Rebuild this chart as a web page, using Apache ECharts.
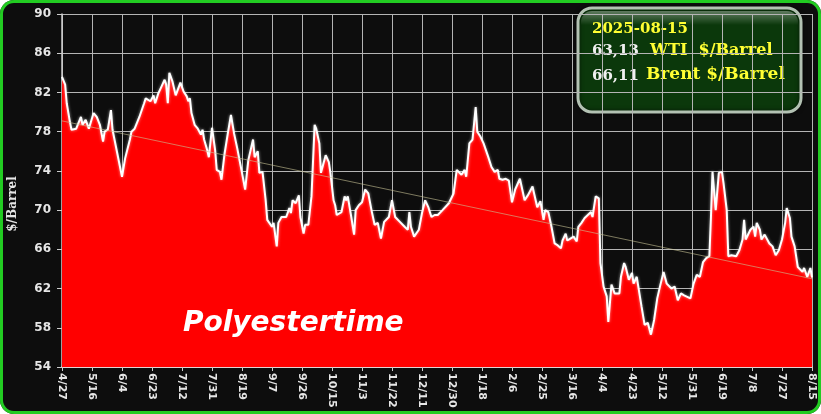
<!DOCTYPE html>
<html>
<head>
<meta charset="utf-8">
<script src="https://cdn.jsdelivr.net/npm/echarts@6/dist/echarts.min.js"></script>
<style>
  html, body { margin: 0; padding: 0; background: #ffffff; }
  #wrap { position: relative; width: 821px; height: 414px; }
  #chart { position: absolute; left: 0; top: 0; width: 821px; height: 414px; background: #0d0d0d; border-radius: 14px; overflow: hidden; }
  #frame { position: absolute; left: 0; top: 0; width: 821px; height: 414px; box-sizing: border-box; border: 3px solid #22cc22; border-radius: 14px; pointer-events: none; }
</style>
</head>
<body>
<div id="wrap"><div id="chart"></div><div id="frame"></div></div>
<script>
// ---- data ----
const startDate = '2024-04-27';           // first day on the x axis
const endDay = 475;                        // 2025-08-15, days after startDate
const tickStepDays = 19;                   // x tick spacing in days
// day offsets from startDate
const days = [0,2,3,5,6,9,12,13,15,17,20,22,24,26,27,29,31,32,35,38,40,41,43,44,46,49,52,53,56,58,59,61,63,65,66,67,68,70,72,75,77,79,80,81,82,84,86,88,89,90,92,93,95,97,98,100,101,103,105,107,109,111,114,116,118,121,122,124,125,127,129,130,133,134,136,137,139,142,144,145,146,148,150,151,153,154,156,158,160,161,163,164,165,167,169,170,172,173,174,177,179,180,181,183,185,186,188,190,192,194,196,198,200,202,204,207,209,211,214,217,219,220,221,223,226,228,230,232,234,236,238,241,245,248,250,253,255,256,258,260,262,263,265,267,270,272,274,276,277,279,281,283,285,287,290,293,295,298,299,301,303,305,306,308,310,312,314,316,317,319,320,322,324,326,327,329,331,333,335,336,338,340,341,343,345,346,348,350,353,354,356,357,359,361,362,364,365,367,369,371,373,375,377,379,381,383,386,388,390,392,394,398,400,402,404,406,408,410,411,412,414,416,418,419,421,422,424,427,429,431,432,433,436,438,439,440,442,443,445,448,450,452,454,456,458,459,461,462,464,466,469,470,472,474,475];
// price in $/barrel
const prices = [83.6,82.8,80.9,79.0,78.2,78.3,79.5,78.7,79.2,78.3,79.9,79.5,78.7,77.0,78.0,78.2,80.2,78.2,75.8,73.4,75.3,75.4,77.2,78.0,78.3,79.5,80.9,81.4,81.1,81.7,80.9,81.9,82.6,83.3,82.8,80.9,84.0,83.1,81.7,83.0,82.1,81.6,81.1,81.4,79.9,78.7,78.3,77.7,78.2,77.2,76.1,75.4,78.4,76.1,74.1,73.9,73.1,75.8,77.8,79.7,77.8,76.3,73.8,72.1,75.1,77.2,75.4,76.0,73.8,73.9,71.0,69.0,68.3,68.7,66.3,68.7,69.3,69.3,70.2,69.7,71.0,70.7,71.5,69.3,67.6,68.5,68.5,71.4,78.7,78.3,76.8,73.8,73.9,75.6,74.9,73.8,71.0,70.5,69.5,69.8,71.4,71.0,71.4,69.5,67.5,70.0,70.5,70.8,72.1,71.7,70.0,68.5,68.7,67.1,68.8,69.3,71.0,69.3,68.8,68.3,68.0,69.8,68.3,67.3,68.0,69.7,71.0,70.3,69.3,69.5,69.5,70.0,70.7,71.7,74.1,73.6,74.1,73.4,76.8,77.2,80.5,78.0,77.5,76.8,75.4,74.4,73.9,74.1,73.2,73.1,73.2,73.0,70.8,72.1,73.2,71.0,71.5,72.4,71.7,70.3,70.9,69.0,70.0,69.8,68.3,66.6,66.4,66.1,66.9,67.6,66.9,67.1,67.3,66.8,68.3,68.7,69.2,69.5,69.8,69.3,71.4,71.2,64.6,62.2,61.2,58.6,62.4,61.5,61.5,63.2,64.6,64.2,62.9,63.6,62.5,63.2,62.2,60.2,58.3,58.5,57.3,58.8,61.0,62.4,63.7,62.5,62.0,62.2,60.8,61.5,61.3,61.0,62.5,63.4,63.2,64.7,65.1,65.3,69.3,73.9,70.0,73.8,73.9,72.7,70.0,65.3,65.4,65.3,65.9,67.0,69.0,67.0,68.0,68.3,67.3,68.7,68.0,67.0,67.5,66.6,66.3,65.4,65.9,67.0,68.7,70.2,69.2,67.3,66.3,64.2,63.7,64.1,63.2,64.1,63.13];
// trend line (value at first and last day)
const trendValues = [79.1, 63.0];
// y axis
const yMin = 54, yMax = 90, yStep = 4;
// info box texts
const infoDate = '2025-08-15';
const wtiLast = '63,13';
const brentLast = '66,11';
const wtiLabel = 'WTI  $/Barrel';
const brentLabel = 'Brent $/Barrel';
const yName = '$/Barrel';
const watermark = 'Polyestertime';

// ---- chart ----
const start = new Date(startDate + 'T00:00:00Z').getTime();
function dayLabel(v) {
  const d = new Date(start + v * 86400000);
  return (d.getUTCMonth() + 1) + '/' + d.getUTCDate();
}
const seriesData = days.map((d, i) => [d, prices[i]]);
const trendData = [[0, trendValues[0]], [endDay, trendValues[1]]];

const chart = echarts.init(document.getElementById('chart'), null, { renderer: 'canvas' });
chart.setOption({
  backgroundColor: 'transparent',
  animation: false,
  grid: { left: 62, right: 9, top: 14, bottom: 47, containLabel: false },
  xAxis: {
    type: 'value', min: 0, max: endDay, interval: tickStepDays,
    axisLine: { show: true, lineStyle: { color: '#f2dada', width: 1.5 } },
    axisTick: { show: true, length: 4, lineStyle: { color: '#cccccc' } },
    axisLabel: {
      rotate: 270, margin: 6, color: '#e6e6e6',
      fontFamily: 'DejaVu Sans', fontWeight: 'bold', fontSize: 11,
      showMinLabel: true, showMaxLabel: true, hideOverlap: false,
      formatter: dayLabel
    },
    splitLine: { show: true, lineStyle: { color: '#b4b4b4', width: 1 } }
  },
  yAxis: {
    type: 'value', min: yMin, max: yMax, interval: yStep,
    axisLine: { show: true, lineStyle: { color: '#cfcfcf', width: 1.5 } },
    axisTick: { show: true, length: 5, lineStyle: { color: '#cccccc' } },
    axisLabel: { margin: 11, color: '#e6e6e6', fontFamily: 'DejaVu Sans', fontWeight: 'bold', fontSize: 12 },
    splitLine: { show: true, lineStyle: { color: '#b4b4b4', width: 1 } }
  },
  series: [
    {
      type: 'line', data: seriesData, symbol: 'none', smooth: false, z: 3,
      lineStyle: { color: '#ffffff', width: 2, shadowColor: 'rgba(255,255,255,0.6)', shadowBlur: 3 },
      areaStyle: { color: '#ff0000', opacity: 1, origin: 'start' }
    },
    {
      type: 'line', data: trendData, symbol: 'none', z: 4,
      lineStyle: { color: 'rgba(200,195,150,0.6)', width: 1 }
    }
  ],
  graphic: [
    {
      type: 'text', z: 100, x: 13, y: 204, rotation: Math.PI / 2,
      style: { text: yName, fill: '#e6e6e6', font: 'bold 12px "DejaVu Serif"', align: 'center', verticalAlign: 'middle' }
    },
    {
      type: 'text', z: 100, left: 183, top: 310,
      style: { text: watermark, fill: '#ffffff', font: 'italic bold 28px "DejaVu Sans"' }
    },
    {
      type: 'group', z: 100,
      children: [
        { type: 'rect', shape: { x: 578, y: 8, width: 223, height: 104, r: 14 },
          style: { fill: '#0b380b', stroke: '#b3c2b3', lineWidth: 3, shadowColor: 'rgba(0,0,0,0.6)', shadowBlur: 4 } },
        { type: 'rect', shape: { x: 581, y: 11, width: 217, height: 14, r: [11, 11, 0, 0] },
          style: { fill: new echarts.graphic.LinearGradient(0, 0, 0, 1, [
            { offset: 0, color: 'rgba(255,255,255,0.35)' }, { offset: 1, color: 'rgba(255,255,255,0)' }]) } },
        { type: 'text', x: 592, y: 29, style: { text: infoDate, fill: '#ffff33', font: 'bold 15px "DejaVu Serif"', verticalAlign: 'middle' } },
        { type: 'text', x: 592, y: 51, style: { text: wtiLast, fill: '#f0f0f0', font: 'bold 15px "DejaVu Serif"', verticalAlign: 'middle' } },
        { type: 'text', x: 650, y: 51, style: { text: wtiLabel, fill: '#ffff33', font: 'bold 16px "DejaVu Serif"', verticalAlign: 'middle' } },
        { type: 'text', x: 592, y: 76, style: { text: brentLast, fill: '#f0f0f0', font: 'bold 15px "DejaVu Serif"', verticalAlign: 'middle' } },
        { type: 'text', x: 646, y: 75, style: { text: brentLabel, fill: '#ffff33', font: 'bold 17px "DejaVu Serif"', verticalAlign: 'middle' } }
      ]
    }
  ]
});
</script>
</body>
</html>
